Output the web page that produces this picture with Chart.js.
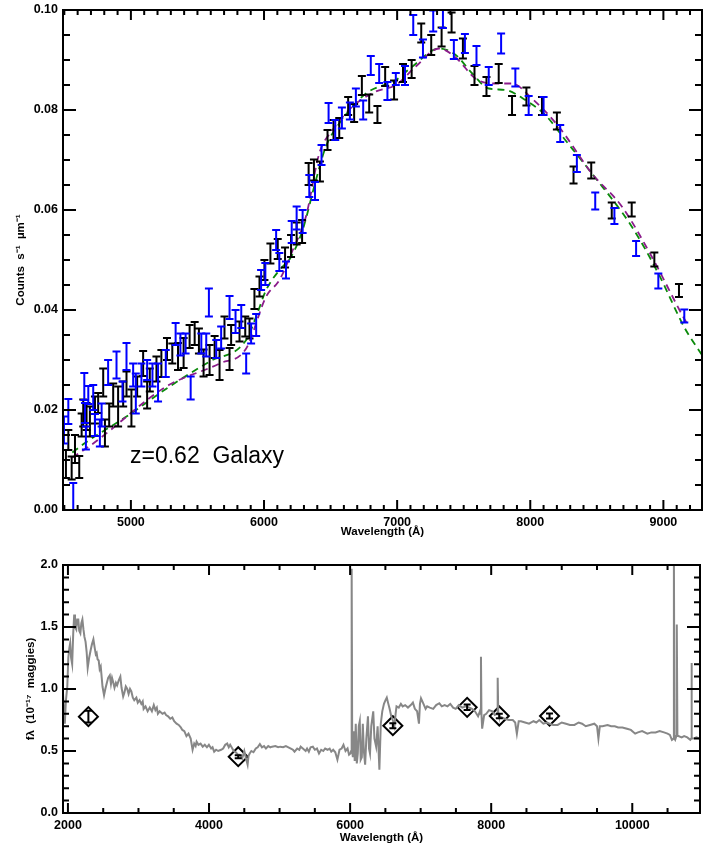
<!DOCTYPE html>
<html><head><meta charset="utf-8">
<script src="https://cdn.jsdelivr.net/npm/chart.js@4"></script>
<style>
html,body{margin:0;padding:0;background:#fff;width:703px;height:848px;overflow:hidden}
#c1{position:absolute;left:0;top:0}
#c2{position:absolute;left:0;top:548px}
</style></head><body>
<canvas id="c1" width="703" height="545"></canvas>
<canvas id="c2" width="703" height="300"></canvas>
<script>
// ---------- top panel data ----------
const blackWave = [4512,4530,4555,4580,4612,4630,4642,4667,4692,4730,4754,4792,4805,4837,4867,4904,4942,4967,5004,5047,5092,5122,5142,5192,5229,5271,5311,5354,5396,5441,5479,5511,5546,5591,5629,5666,5703,5741,5753,5816,5859,5891,5928,5966,6003,6048,6103,6158,6203,6245,6286,6335,6375,6420,6477,6522,6565,6632,6677,6735,6790,6852,6910,6977,7044,7109,7181,7256,7334,7409,7494,7581,7671,7763,7863,7971,8088,8200,8325,8458,8612,8762,8932,9117];
const blackFlux = [0.0092,0.014,0.0084,0.0122,0.0086,0.017,0.0194,0.0187,0.0177,0.020,0.0214,0.0255,0.0154,0.019,0.023,0.0207,0.0232,0.0252,0.0204,0.0247,0.0293,0.023,0.026,0.0282,0.0293,0.0322,0.0313,0.0307,0.0314,0.0347,0.0353,0.0338,0.0294,0.030,0.0326,0.029,0.0365,0.0302,0.035,0.0357,0.0367,0.0363,0.0422,0.0447,0.048,0.0513,0.0522,0.0505,0.0528,0.0553,0.0557,0.0672,0.068,0.0677,0.074,0.076,0.0764,0.0808,0.0794,0.0849,0.0813,0.0791,0.0867,0.084,0.0874,0.0882,0.0954,0.093,0.0946,0.0975,0.0923,0.0869,0.0847,0.0873,0.0809,0.0827,0.0808,0.0778,0.067,0.0679,0.0599,0.0601,0.0501,0.0439];
const blackErr = [0.0028,0.002,0.0023,0.0028,0.0022,0.0023,0.0027,0.0027,0.003,0.0027,0.002,0.0028,0.0027,0.0023,0.0023,0.004,0.0025,0.0025,0.0037,0.002,0.0025,0.0027,0.0023,0.0025,0.0027,0.0022,0.002,0.0027,0.003,0.0023,0.0023,0.0025,0.0027,0.003,0.0022,0.003,0.0022,0.0022,0.002,0.002,0.002,0.002,0.002,0.002,0.002,0.002,0.002,0.002,0.0022,0.0022,0.0023,0.0022,0.0021,0.002,0.002,0.002,0.002,0.0018,0.0018,0.0019,0.0018,0.0017,0.0019,0.0019,0.0018,0.0018,0.0019,0.002,0.0019,0.002,0.002,0.0019,0.0019,0.0019,0.0019,0.0018,0.0018,0.0017,0.0017,0.0016,0.0016,0.0014,0.0014,0.0013];

const blueWave = [4497,4530,4567,4650,4655,4662,4680,4717,4730,4767,4780,4829,4892,4937,4967,5017,5037,5079,5122,5162,5204,5262,5336,5372,5411,5449,5529,5566,5586,5641,5678,5741,5786,5829,5866,5903,5941,5978,6010,6091,6115,6165,6208,6245,6290,6340,6383,6432,6485,6535,6585,6645,6690,6745,6802,6865,6927,6990,7059,7121,7194,7271,7344,7426,7509,7596,7688,7781,7888,7988,8100,8225,8350,8488,8632,8795,8962,9157];
const blueFlux = [0.016,0.0197,0.0024,0.0247,0.0194,0.0144,0.023,0.0225,0.017,0.0154,0.019,0.0275,0.029,0.0237,0.0307,0.027,0.0233,0.027,0.028,0.027,0.0255,0.0293,0.0352,0.0331,0.0333,0.0244,0.0333,0.033,0.0415,0.0322,0.0345,0.0405,0.0377,0.0387,0.0293,0.0353,0.037,0.046,0.0472,0.054,0.0496,0.048,0.0556,0.0584,0.0577,0.0648,0.0638,0.071,0.0794,0.076,0.0784,0.0798,0.0825,0.080,0.0889,0.0873,0.0838,0.0862,0.0869,0.097,0.0923,0.0978,0.0982,0.0921,0.0933,0.0909,0.0868,0.0933,0.0865,0.0809,0.0808,0.0753,0.0693,0.0618,0.0588,0.0523,0.0458,0.0388];
const blueErr = [0.0027,0.0025,0.003,0.0027,0.002,0.0023,0.0018,0.0025,0.0022,0.0027,0.0023,0.0025,0.0027,0.002,0.0027,0.0023,0.004,0.0023,0.002,0.0023,0.0038,0.0027,0.0022,0.0022,0.002,0.0023,0.002,0.0023,0.0028,0.0018,0.0022,0.0023,0.0023,0.0023,0.002,0.002,0.0022,0.002,0.0022,0.002,0.0018,0.0017,0.0022,0.0023,0.0023,0.0022,0.0018,0.002,0.002,0.002,0.0021,0.0017,0.0018,0.0019,0.0019,0.0019,0.0018,0.0012,0.0019,0.002,0.0018,0.0021,0.0018,0.0019,0.0019,0.0019,0.0018,0.002,0.0018,0.0019,0.0018,0.0017,0.0017,0.0017,0.0016,0.0015,0.0015,0.0013];

const purpleWave = [4560,4717,5266,5666,5866,6016,6116,6216,6315,6415,6515,6665,6840,6990,7140,7315,7440,7588,7713,7863,8013,8213,8463,8688,8912,9162,9190];
const purpleFlux = [0.0105,0.0133,0.0247,0.0293,0.0323,0.0427,0.046,0.052,0.0587,0.0713,0.076,0.0807,0.0837,0.085,0.0887,0.0923,0.0905,0.0863,0.0853,0.0853,0.0823,0.0767,0.0673,0.0607,0.0507,0.038,0.0368];
const greenWave = [4560,4655,4967,5291,5591,5866,5941,6016,6116,6200,6290,6390,6465,6565,6765,6990,7115,7315,7440,7564,7688,7813,7963,8113,8263,8463,8762,8962,9162,9290];
const greenFlux = [0.0115,0.0134,0.0187,0.0247,0.0297,0.034,0.0387,0.044,0.048,0.0505,0.056,0.066,0.0727,0.0773,0.0833,0.086,0.0887,0.0923,0.091,0.0873,0.0843,0.084,0.082,0.079,0.074,0.0673,0.0567,0.0473,0.0363,0.031];

const topXTicks = [5000,6000,7000,8000,9000];
const topYTicks = [0.00,0.02,0.04,0.06,0.08,0.10];

// ---------- bottom panel data ----------
const specWave = [1930,1945,1956,1970,1991,2005,2020,2032,2045,2060,2075,2089,2100,2118,2130,2147,2160,2176,2190,2205,2220,2234,2250,2265,2280,2300,2321,2340,2361,2380,2395,2407,2420,2436,2450,2465,2490,2512,2530,2552,2570,2593,2610,2625,2639,2660,2680,2697,2720,2743,2760,2783,2800,2820,2841,2860,2880,2899,2920,2940,2970,2990,3015,3040,3060,3073,3100,3130,3160,3190,3217,3240,3260,3275,3300,3340,3370,3391,3420,3450,3480,3506,3540,3570,3600,3622,3650,3680,3709,3740,3767,3790,3810,3824,3850,3880,3911,3940,3970,3998,4030,4050,4073,4100,4130,4171,4200,4230,4258,4280,4300,4316,4350,4380,4410,4432,4470,4500,4520,4547,4560,4576,4600,4630,4663,4690,4721,4750,4780,4807,4840,4870,4894,4940,4980,5010,5050,5090,5125,5160,5190,5212,5250,5280,5299,5330,5370,5390,5415,5440,5472,5500,5530,5559,5590,5620,5646,5680,5710,5733,5760,5790,5820,5850,5880,5906,5935,5964,5985,6005,6015,6022,6030,6039,6055,6065,6080,6095,6109,6123,6137,6150,6166,6180,6195,6213,6230,6253,6268,6282,6300,6328,6345,6369,6390,6415,6435,6456,6480,6502,6520,6542,6560,6583,6610,6629,6645,6658,6690,6720,6745,6780,6820,6860,6890,6918,6950,6976,6990,7005,7040,7070,7092,7130,7178,7220,7265,7300,7340,7381,7420,7460,7497,7540,7590,7641,7690,7728,7770,7814,7840,7850,7855,7862,7872,7900,7930,7970,8017,8050,8085,8092,8100,8110,8150,8190,8250,8306,8340,8364,8390,8422,8480,8537,8600,8640,8682,8740,8790,8827,8880,8942,9000,9060,9116,9180,9240,9289,9340,9400,9462,9500,9520,9540,9578,9650,9700,9752,9800,9860,9925,9980,10041,10080,10140,10214,10270,10330,10388,10450,10500,10533,10562,10585,10590,10598,10608,10624,10631,10640,10654,10700,10735,10780,10822,10835,10839,10845,10862,10910,10955];
const specFlux = [0.965,0.80,0.72,0.90,1.02,1.25,1.33,1.37,1.25,1.2,1.45,1.6,1.50,1.48,1.56,1.56,1.47,1.45,1.53,1.56,1.48,1.42,1.38,1.30,1.17,1.25,1.31,1.36,1.40,1.33,1.28,1.29,1.24,1.23,1.16,1.18,1.02,0.95,1.00,1.05,1.09,1.11,1.04,1.09,1.06,1.01,1.05,1.03,1.07,1.10,1.01,0.94,0.97,1.02,1.00,0.96,1.00,0.98,0.93,0.91,0.93,0.89,0.91,0.88,0.90,0.84,0.86,0.82,0.85,0.82,0.87,0.83,0.85,0.80,0.82,0.80,0.81,0.79,0.78,0.76,0.77,0.74,0.72,0.71,0.69,0.67,0.66,0.62,0.64,0.60,0.51,0.56,0.54,0.575,0.55,0.56,0.535,0.55,0.53,0.55,0.52,0.53,0.495,0.51,0.50,0.51,0.52,0.55,0.56,0.53,0.55,0.535,0.50,0.49,0.47,0.47,0.44,0.50,0.45,0.39,0.46,0.48,0.50,0.49,0.52,0.53,0.556,0.53,0.54,0.52,0.54,0.53,0.535,0.54,0.53,0.535,0.53,0.54,0.53,0.52,0.51,0.495,0.52,0.51,0.535,0.52,0.50,0.52,0.495,0.53,0.535,0.51,0.52,0.48,0.51,0.50,0.52,0.51,0.52,0.495,0.51,0.49,0.43,0.51,0.52,0.55,0.50,0.52,0.47,0.48,0.50,1.97,0.50,0.45,0.66,0.42,0.72,0.40,0.48,0.70,0.74,0.43,0.45,0.72,0.50,0.39,0.60,0.78,0.52,0.48,0.70,0.82,0.60,0.535,0.70,0.35,0.72,0.82,0.88,0.91,0.93,0.88,0.84,0.78,0.74,0.70,0.80,0.86,0.85,0.88,0.86,0.87,0.85,0.87,0.89,0.84,0.82,0.72,0.88,0.925,0.88,0.84,0.86,0.85,0.84,0.87,0.885,0.86,0.87,0.86,0.88,0.85,0.84,0.87,0.85,0.86,0.85,0.84,0.82,0.78,0.82,0.80,1.26,0.80,0.68,0.79,0.80,0.83,0.82,0.79,0.80,1.09,0.80,0.78,0.77,0.76,0.75,0.75,0.73,0.64,0.74,0.74,0.73,0.72,0.74,0.73,0.75,0.72,0.73,0.72,0.71,0.71,0.73,0.72,0.71,0.71,0.73,0.72,0.70,0.71,0.72,0.70,0.60,0.70,0.70,0.71,0.70,0.70,0.69,0.69,0.68,0.67,0.64,0.65,0.66,0.64,0.65,0.65,0.66,0.65,0.64,0.63,0.59,0.60,2.10,0.60,0.59,0.62,1.52,0.62,0.62,0.61,0.62,0.61,0.59,0.60,1.21,0.60,0.60,0.61,0.60];
const photWave = [2290,4414,6606,7659,8115,8827];
const photFlux = [0.777,0.454,0.704,0.852,0.782,0.782];
const photErr  = [0.048,0.012,0.02,0.022,0.018,0.02];

const botXTicks = [2000,4000,6000,8000,10000];
const botYTicks = [0.0,0.5,1.0,1.5,2.0];

const pts = (xs, ys) => xs.map((x, i) => ({x: x, y: ys[i]}));

// ---------- plugins ----------
const framePlugin = {
  id: 'idlFrame',
  afterDraw(chart, args, o) {
    const {ctx, chartArea: a, scales: {x, y}} = chart;
    ctx.save();
    ctx.strokeStyle = '#000';
    ctx.lineWidth = 2;
    ctx.strokeRect(a.left, a.top, a.right - a.left, a.bottom - a.top);
    ctx.beginPath();
    const x0 = Math.ceil(x.min / o.xMinor) * o.xMinor;
    const nx = Math.floor((x.max - x0) / o.xMinor);
    for (let k = 0; k <= nx; k++) {
      const v = x0 + k * o.xMinor;
      const p = x.getPixelForValue(v);
      const major = x.ticks.some(t => Math.abs(t.value - v) < 1e-6);
      const L = major ? o.xMajorLen : o.xMinorLen;
      ctx.moveTo(p, a.bottom); ctx.lineTo(p, a.bottom - L);
      ctx.moveTo(p, a.top); ctx.lineTo(p, a.top + L);
    }
    const ny = Math.round((y.max - y.min) / o.yMinor);
    for (let k = 0; k <= ny; k++) {
      const v = y.min + k * o.yMinor;
      const p = y.getPixelForValue(v);
      const major = y.ticks.some(t => Math.abs(t.value - v) < 1e-9);
      const L = major ? o.yMajorLen : o.yMinorLen;
      ctx.moveTo(a.left, p); ctx.lineTo(a.left + L, p);
      ctx.moveTo(a.right, p); ctx.lineTo(a.right - L, p);
    }
    ctx.stroke();
    ctx.restore();
  }
};

const errPlugin = {
  id: 'errBars',
  afterDatasetsDraw(chart) {
    const {ctx, chartArea: a, scales: {y}} = chart;
    ctx.save();
    ctx.beginPath();
    ctx.rect(a.left, a.top, a.right - a.left, a.bottom - a.top);
    ctx.clip();
    chart.data.datasets.forEach((ds, i) => {
      if (!ds.errors) return;
      const meta = chart.getDatasetMeta(i);
      ctx.strokeStyle = ds.errColor;
      ctx.lineWidth = ds.errWidth;
      meta.data.forEach((pt, j) => {
        const v = ds.data[j].y, e = ds.errors[j];
        const y1 = y.getPixelForValue(v + e), y2 = y.getPixelForValue(v - e);
        const xp = pt.x, c = ds.capHalf;
        ctx.beginPath();
        ctx.moveTo(xp, y1); ctx.lineTo(xp, y2);
        ctx.moveTo(xp - c, y1); ctx.lineTo(xp + c, y1);
        ctx.moveTo(xp - c, y2); ctx.lineTo(xp + c, y2);
        ctx.stroke();
      });
    });
    ctx.restore();
  }
};

const labelPlugin = {
  id: 'panelLabel',
  afterDraw(chart, args, o) {
    if (!o.text) return;
    const {ctx, chartArea: a} = chart;
    ctx.save();
    ctx.fillStyle = '#000';
    ctx.font = o.font;
    ctx.textBaseline = 'middle';
    ctx.fillText(o.text, a.left + o.dx, a.top + o.dy);
    ctx.restore();
  }
};

const tickFont = {family: 'Liberation Sans', weight: 'bold', size: 12.5};
const titleFont = {family: 'Liberation Sans', weight: 'bold', size: 11.5};

function axes(xmin, xmax, xt, ymin, ymax, yt, ydec, yTitle, yTitlePad, xTitlePad) {
  return {
    x: {
      type: 'linear', min: xmin, max: xmax,
      afterBuildTicks: s => { s.ticks = xt.map(v => ({value: v})); },
      afterFit: s => { s.height = 35; s.paddingLeft = 0; s.paddingRight = 0; },
      grid: {display: false, drawTicks: false}, border: {display: false},
      ticks: {padding: 5, color: '#000', font: tickFont, maxRotation: 0, autoSkip: false, callback: v => String(v)},
      title: {display: true, text: 'Wavelength (Å)', color: '#000', font: titleFont, padding: {top: 0, bottom: xTitlePad}}
    },
    y: {
      type: 'linear', min: ymin, max: ymax,
      afterBuildTicks: s => { s.ticks = yt.map(v => ({value: v})); },
      afterFit: s => { s.width = 63; s.paddingTop = 0; s.paddingBottom = 0; },
      grid: {display: false, drawTicks: false}, border: {display: false},
      ticks: {padding: 5, color: '#000', font: tickFont, autoSkip: false, callback: v => Number(v).toFixed(ydec)},
      title: {display: true, text: yTitle, color: '#000', font: titleFont, padding: {top: yTitlePad, bottom: 0}}
    }
  };
}

// ---------- top chart ----------
new Chart(document.getElementById('c1'), {
  type: 'line',
  data: {
    datasets: [
      {data: pts(purpleWave, purpleFlux), borderColor: '#8b1c8b', borderWidth: 1.8, borderDash: [7, 5], pointRadius: 0, fill: false, cubicInterpolationMode: 'monotone'},
      {data: pts(greenWave, greenFlux), borderColor: '#0a8a0a', borderWidth: 1.8, borderDash: [7, 5], pointRadius: 0, fill: false, cubicInterpolationMode: 'monotone'},
      {data: pts(blackWave, blackFlux), showLine: false, pointRadius: 0, errors: blackErr, errColor: '#000000', errWidth: 2, capHalf: 4},
      {data: pts(blueWave, blueFlux), showLine: false, pointRadius: 0, errors: blueErr, errColor: '#0000ff', errWidth: 2, capHalf: 4}
    ]
  },
  options: {
    responsive: false, animation: false,
    layout: {autoPadding: false, padding: {top: 10, right: 1, left: 0, bottom: 0}},
    plugins: {
      legend: {display: false}, tooltip: {enabled: false},
      idlFrame: {xMinor: 100, xMajorLen: 10, xMinorLen: 5, yMinor: 0.005, yMajorLen: 13, yMinorLen: 7},
      panelLabel: {text: 'z=0.62  Galaxy', font: '23px "Liberation Sans"', dx: 67, dy: 447}
    },
    scales: axes(4490, 9290, topXTicks, 0, 0.1, topYTicks, 2, 'Counts  s\u207B\u00B9  \u00B5m\u207B\u00B9', 14, 6)
  },
  plugins: [framePlugin, errPlugin, labelPlugin]
});

// ---------- bottom chart ----------
new Chart(document.getElementById('c2'), {
  type: 'line',
  data: {
    datasets: [
      {data: pts(specWave, specFlux), borderColor: '#878787', borderWidth: 2, pointRadius: 0, fill: false, tension: 0},
      {data: pts(photWave, photFlux), showLine: false, pointStyle: 'rectRot', pointRadius: 9.5, pointBorderWidth: 2,
       pointBorderColor: '#000', pointBackgroundColor: '#ffffff', errors: photErr, errColor: '#000', errWidth: 2, capHalf: 3.5}
    ]
  },
  options: {
    responsive: false, animation: false,
    layout: {autoPadding: false, padding: {top: 17, right: 3, left: 0, bottom: 0}},
    plugins: {
      legend: {display: false}, tooltip: {enabled: false},
      idlFrame: {xMinor: 500, xMajorLen: 10, xMinorLen: 5, yMinor: 0.1, yMajorLen: 13, yMinorLen: 6}
    },
    scales: axes(1930, 10960, botXTicks, 0, 2.0, botYTicks, 1, 'f\u03BB  (10\u207B\u00B9\u2077  maggies)', 24, 3)
  },
  plugins: [framePlugin, errPlugin]
});
</script>
</body></html>
